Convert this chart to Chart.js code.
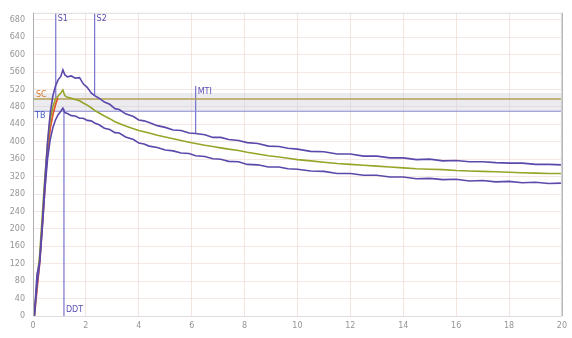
<!DOCTYPE html>
<html>
<head>
<meta charset="utf-8">
<script src="https://cdn.jsdelivr.net/npm/chart.js@4/dist/chart.umd.min.js"></script>
<style>
  html, body { margin: 0; padding: 0; background: #fff; }
  #wrap { width: 572px; height: 338px; }
</style>
</head>
<body>
<div id="wrap"><canvas id="grafico"></canvas></div>
<script>
// tiempo (eje x) y temperaturas
const tiempos = [0.05,0.15,0.25,0.35,0.45,0.55,0.65,0.75,0.85,0.95,1.05,1.13,1.2,1.3,1.45,1.6,1.76,1.9,2.05,2.2,2.33,2.5,2.7,2.9,3.1,3.26,3.5,3.8,4.0,4.2,4.39,4.7,5.0,5.3,5.6,5.9,6.15,6.5,6.8,7.1,7.4,7.77,8.1,8.5,8.9,9.3,9.64,10.0,10.5,11.0,11.5,12.0,12.5,13.0,13.5,14.0,14.5,15.0,15.5,16.0,16.5,17.0,17.5,18.0,18.5,19.0,19.5,20.0];
const curvaMax = [0,95,125,210,310,400,465,505,528,542,550,565,554,549,551,546,547,533,525,512,506,500,491,486,476,474,464,458,450,448,444,437,433,427,426,420,419,416,410,410,405,403,398,396,390,389,385,383,378,377,372,372,367,367,363,363,359,360,356,357,354,354,352,351,351,348,348,347];
const curvaMedia = [0,80,140,230,320,395,450,480,498,505,512,519,506,502,500,497,494,489,484,478,472,466,459,453,446,442,436,430,426,423,420,415,411,407,403,399,396,392,389,386,383,380,376,372,368,365,362,359,356,353,350,348,346,344,342,340,338,337,336,334,333,332,331,330,329,328,327,327];
const curvaMin = [0,70,120,200,290,360,405,432,450,462,470,477,467,465,460,459,454,454,449,448,443,439,431,428,421,420,411,405,397,395,390,387,381,379,374,373,368,366,361,360,355,354,348,347,342,342,338,337,333,332,327,327,323,323,319,319,315,316,313,314,310,311,308,309,306,307,304,305];

// subida inicial (linea roja)
const tiemposSubida = [0.05,0.15,0.26,0.4,0.52,0.65,0.75,0.85,0.94];
const valoresSubida = [0,60,128,250,357,430,462,485,501];

// marcas verticales: nombre, x, desde, hasta
const marcasNombre = ['S1','S2','MTI','DDT'];
const marcasX = [0.86, 2.33, 6.15, 1.17];
const marcasDesde = [696, 696, 528, 476];
const marcasHasta = [500, 506, 419, 0];

// niveles horizontales
const nivelSC = 498;
const nivelTB = 470;
const bandaArriba = 512;
const ticksX = [0,2,4,6,8,10,12,14,16,18,20];
const ticksY = [0,40,80,120,160,200,240,280,320,360,400,440,480,520,560,600,640,680];

const puntos = (xs, ys) => xs.map((x, i) => ({x: x, y: ys[i]}));

const colorMorado = 'rgb(92,72,170)';
const colorMarca = 'rgb(120,116,205)';

let datasets = [
    { data: puntos(tiempos, curvaMax), borderColor: colorMorado, borderWidth: 1.6 },
    { data: puntos(tiempos, curvaMin), borderColor: colorMorado, borderWidth: 1.6 },
    { data: puntos(tiempos, curvaMedia), borderColor: 'rgb(150,165,40)', borderWidth: 1.6 },
    { data: puntos(tiemposSubida, valoresSubida), borderColor: 'rgb(228,85,50)', borderWidth: 1.8 },
    { data: [{x: 0, y: nivelSC}, {x: 20, y: nivelSC}], borderColor: 'rgb(180,160,85)', borderWidth: 1.5 },
    { data: [{x: 0, y: nivelTB}, {x: 20, y: nivelTB}], borderColor: 'rgb(140,136,210)', borderWidth: 1 },
    { data: [{x: 20, y: nivelSC}, {x: 20, y: curvaMin[curvaMin.length - 1]}], borderColor: colorMorado, borderWidth: 1.5 }
];
marcasX.forEach((x, i) => {
    datasets.push({ data: [{x: x, y: marcasDesde[i]}, {x: x, y: marcasHasta[i]}], borderColor: colorMarca, borderWidth: 1.2 });
});
datasets = datasets.map(d => Object.assign({ showLine: true, pointRadius: 0, tension: 0, fill: false }, d));

// banda gris, marco y etiquetas de texto
const extras = {
    id: 'extras',
    beforeDatasetsDraw(chart) {
        const {ctx, chartArea, scales} = chart;
        const yA = scales.y.getPixelForValue(bandaArriba);
        const yB = scales.y.getPixelForValue(nivelTB);
        ctx.save();
        ctx.fillStyle = 'rgba(205,205,218,0.4)';
        ctx.fillRect(chartArea.left, yA, chartArea.right - chartArea.left, yB - yA);
        ctx.restore();
    },
    afterDatasetsDraw(chart) {
        const {ctx, chartArea, scales} = chart;
        ctx.save();
        ctx.strokeStyle = '#dddddd';
        ctx.lineWidth = 1;
        ctx.strokeRect(chartArea.left + 0.5, chartArea.top + 0.5, chartArea.right - chartArea.left - 1, chartArea.bottom - chartArea.top);
        ctx.strokeStyle = '#b0b0b0';
        ctx.beginPath();
        ctx.moveTo(chartArea.left + 0.5, chartArea.top);
        ctx.lineTo(chartArea.left + 0.5, chartArea.bottom);
        ctx.moveTo(chartArea.right + 0.5, chartArea.top);
        ctx.lineTo(chartArea.right + 0.5, chartArea.bottom);
        ctx.stroke();

        ctx.font = '8px "DejaVu Sans"';
        ctx.textBaseline = 'top';
        ctx.fillStyle = 'rgb(90,80,180)';
        marcasNombre.forEach((nombre, i) => {
            const px = scales.x.getPixelForValue(marcasX[i]) + 2;
            let py = scales.y.getPixelForValue(marcasDesde[i]) + 2;
            if (nombre === 'DDT') py = scales.y.getPixelForValue(0) - 10;
            ctx.fillText(nombre, px, py);
        });
        ctx.fillStyle = 'rgb(215,120,40)';
        ctx.fillText('SC', chartArea.left + 3, scales.y.getPixelForValue(nivelSC) - 8);
        ctx.fillStyle = 'rgb(70,90,190)';
        ctx.fillText('TB', chartArea.left + 2, scales.y.getPixelForValue(nivelTB) + 1);
        ctx.restore();
    }
};

new Chart(document.getElementById('grafico'), {
    type: 'scatter',
    data: { datasets: datasets },
    options: {
        responsive: true,
        maintainAspectRatio: false,
        animation: false,
        layout: { padding: { top: 12, right: 6, left: 0, bottom: 0 } },
        plugins: { legend: { display: false }, tooltip: { enabled: false } },
        scales: {
            x: {
                type: 'linear', min: 0, max: 20,
                afterBuildTicks: (s) => { s.ticks = ticksX.map(v => ({value: v})); },
                afterFit: (s) => { s.height = 22; },
                grid: { color: 'rgba(236,212,204,0.6)', drawTicks: false },
                border: { display: false },
                ticks: { color: '#959595', font: { size: 8, family: 'DejaVu Sans' }, padding: 5, maxRotation: 0 }
            },
            y: {
                type: 'linear', min: 0, max: 696,
                afterBuildTicks: (s) => { s.ticks = ticksY.map(v => ({value: v})); },
                afterFit: (s) => { s.width = 33; },
                grid: { color: 'rgba(236,216,210,0.6)', drawTicks: false },
                border: { display: false },
                ticks: { color: '#959595', font: { size: 8, family: 'DejaVu Sans' }, padding: 8 }
            }
        }
    },
    plugins: [extras]
});
</script>
</body>
</html>
